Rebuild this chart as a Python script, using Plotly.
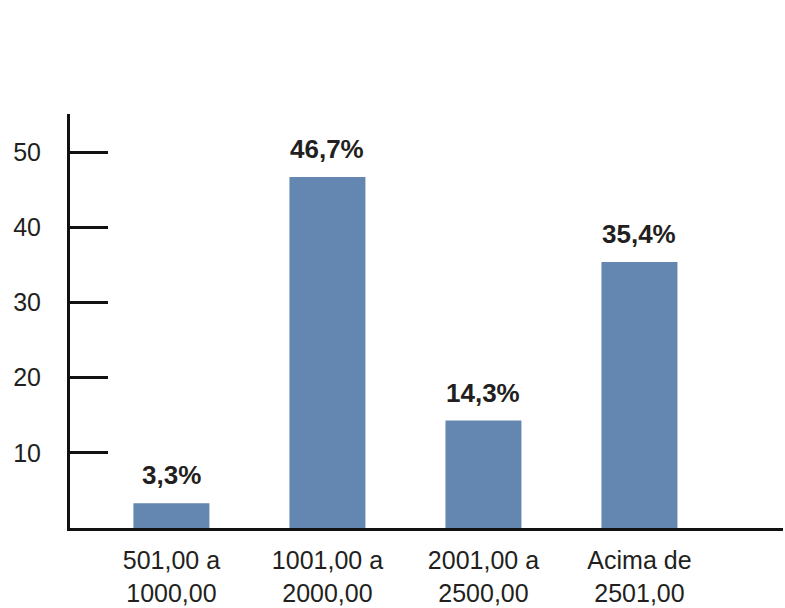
import plotly.graph_objects as go

categories = ["501,00 a<br>1000,00", "1001,00 a<br>2000,00", "2001,00 a<br>2500,00", "Acima de<br>2501,00"]
values = [3.3, 46.7, 14.3, 35.4]
value_labels = ["3,3%", "46,7%", "14,3%", "35,4%"]
y_ticks = [10, 20, 30, 40, 50]

TXT = "#231f20"
FONT = "Liberation Sans, Arial, Helvetica, sans-serif"
xpos = list(range(len(categories)))

fig = go.Figure()
fig.add_trace(go.Bar(
    x=xpos, y=values, width=0.487,
    marker=dict(color="#6387b0", line=dict(width=0)),
    hoverinfo="skip",
))

for xp, v, lab in zip(xpos, values, value_labels):
    fig.add_annotation(
        x=xp, y=v, xref="x", yref="y", text="<b>" + lab + "</b>",
        showarrow=False, yanchor="bottom", yshift=11,
        font=dict(family=FONT, size=26, color=TXT),
    )

fig.update_layout(
    width=785, height=608,
    margin=dict(l=70, r=2, t=114, b=80),
    paper_bgcolor="white", plot_bgcolor="white",
    showlegend=False,
    font=dict(family=FONT, size=25, color=TXT),
    xaxis=dict(
        range=[-0.65, 3.92], tickvals=xpos, ticktext=categories,
        showgrid=False, zeroline=False, showline=True, linecolor="#111111",
        linewidth=3, ticks="", ticklabelstandoff=8,
        tickfont=dict(family=FONT, size=25, color=TXT),
    ),
    yaxis=dict(
        range=[0, 55.1], tickvals=y_ticks, showgrid=False, zeroline=False,
        showline=True, linecolor="#111111", linewidth=3,
        ticks="inside", ticklen=38, tickwidth=2.5, tickcolor="#111111",
        ticklabelstandoff=21,
        tickfont=dict(family=FONT, size=25, color=TXT),
    ),
)

fig.write_html("out.html")
